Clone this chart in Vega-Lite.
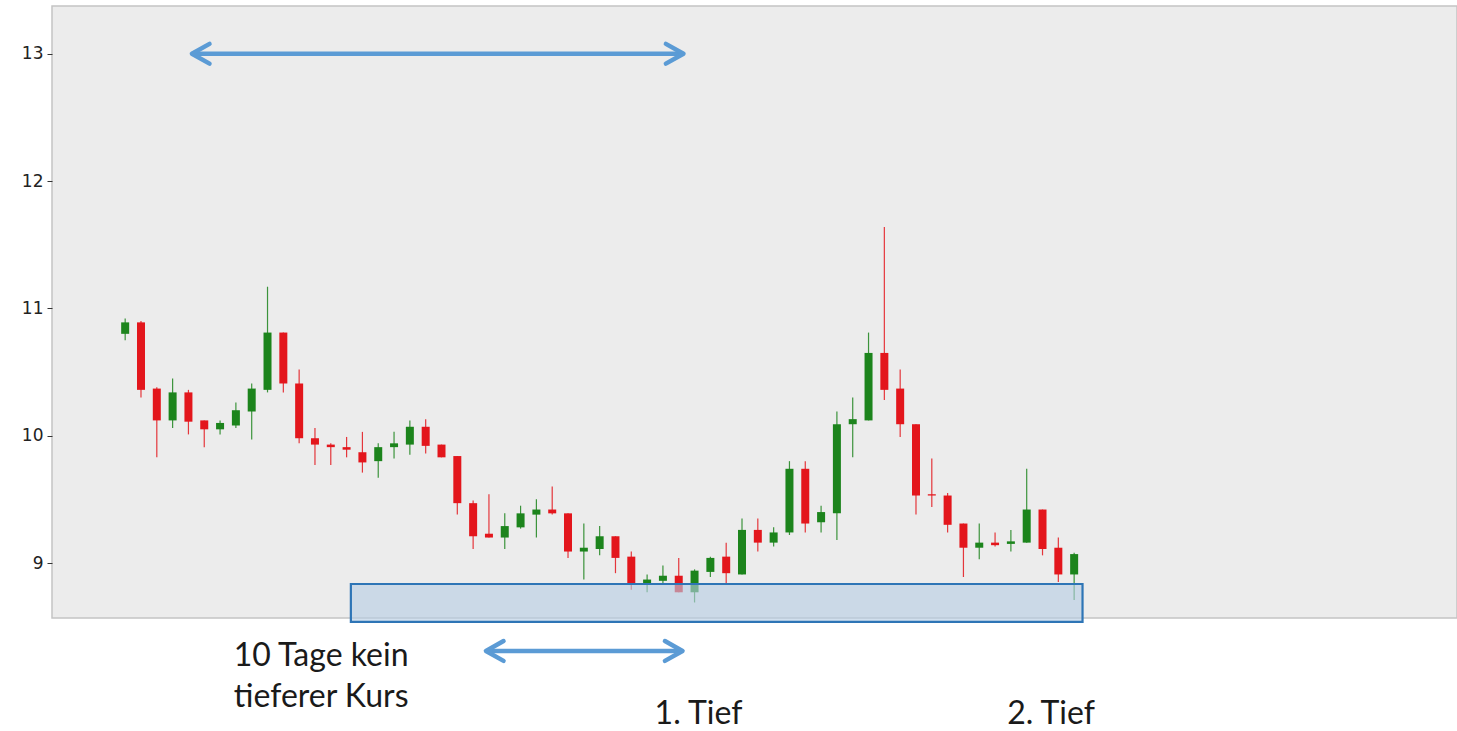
{
  "$schema": "https://vega.github.io/schema/vega-lite/v6.json",
  "autosize": {"type": "none"},
  "width": 1405,
  "height": 612,
  "padding": {"left": 52, "top": 6, "right": 0, "bottom": 113},
  "background": "white",
  "config": {
    "view": {"fill": "#ececec", "stroke": "#c4c4c4", "strokeWidth": 1.5},
    "axis": {"domain": false, "grid": false}
  },
  "datasets": {
    "candles": [
      {"i":1,"o":10.80,"h":10.92,"l":10.75,"c":10.89,"d":"up"},
      {"i":2,"o":10.89,"h":10.90,"l":10.30,"c":10.36,"d":"down"},
      {"i":3,"o":10.37,"h":10.38,"l":9.83,"c":10.12,"d":"down"},
      {"i":4,"o":10.12,"h":10.45,"l":10.06,"c":10.34,"d":"up"},
      {"i":5,"o":10.34,"h":10.36,"l":10.01,"c":10.11,"d":"down"},
      {"i":6,"o":10.12,"h":10.12,"l":9.91,"c":10.05,"d":"down"},
      {"i":7,"o":10.05,"h":10.12,"l":10.01,"c":10.10,"d":"up"},
      {"i":8,"o":10.08,"h":10.26,"l":10.06,"c":10.20,"d":"up"},
      {"i":9,"o":10.19,"h":10.41,"l":9.97,"c":10.37,"d":"up"},
      {"i":10,"o":10.36,"h":11.17,"l":10.34,"c":10.81,"d":"up"},
      {"i":11,"o":10.81,"h":10.81,"l":10.34,"c":10.41,"d":"down"},
      {"i":12,"o":10.41,"h":10.52,"l":9.94,"c":9.98,"d":"down"},
      {"i":13,"o":9.98,"h":10.06,"l":9.77,"c":9.93,"d":"down"},
      {"i":14,"o":9.93,"h":9.94,"l":9.77,"c":9.91,"d":"down"},
      {"i":15,"o":9.91,"h":9.99,"l":9.83,"c":9.89,"d":"down"},
      {"i":16,"o":9.87,"h":10.03,"l":9.71,"c":9.79,"d":"down"},
      {"i":17,"o":9.80,"h":9.94,"l":9.67,"c":9.91,"d":"up"},
      {"i":18,"o":9.91,"h":10.03,"l":9.82,"c":9.94,"d":"up"},
      {"i":19,"o":9.93,"h":10.12,"l":9.85,"c":10.07,"d":"up"},
      {"i":20,"o":10.07,"h":10.13,"l":9.86,"c":9.92,"d":"down"},
      {"i":21,"o":9.93,"h":9.93,"l":9.83,"c":9.83,"d":"down"},
      {"i":22,"o":9.84,"h":9.84,"l":9.38,"c":9.47,"d":"down"},
      {"i":23,"o":9.47,"h":9.49,"l":9.11,"c":9.21,"d":"down"},
      {"i":24,"o":9.23,"h":9.54,"l":9.20,"c":9.20,"d":"down"},
      {"i":25,"o":9.20,"h":9.39,"l":9.11,"c":9.29,"d":"up"},
      {"i":26,"o":9.28,"h":9.45,"l":9.27,"c":9.39,"d":"up"},
      {"i":27,"o":9.38,"h":9.50,"l":9.20,"c":9.42,"d":"up"},
      {"i":28,"o":9.42,"h":9.60,"l":9.38,"c":9.39,"d":"down"},
      {"i":29,"o":9.39,"h":9.39,"l":9.04,"c":9.09,"d":"down"},
      {"i":30,"o":9.09,"h":9.31,"l":8.87,"c":9.12,"d":"up"},
      {"i":31,"o":9.11,"h":9.29,"l":9.06,"c":9.21,"d":"up"},
      {"i":32,"o":9.21,"h":9.21,"l":8.92,"c":9.04,"d":"down"},
      {"i":33,"o":9.05,"h":9.09,"l":8.79,"c":8.83,"d":"down"},
      {"i":34,"o":8.84,"h":8.91,"l":8.77,"c":8.87,"d":"up"},
      {"i":35,"o":8.86,"h":8.98,"l":8.84,"c":8.90,"d":"up"},
      {"i":36,"o":8.90,"h":9.04,"l":8.77,"c":8.77,"d":"down"},
      {"i":37,"o":8.77,"h":8.95,"l":8.69,"c":8.94,"d":"up"},
      {"i":38,"o":8.93,"h":9.05,"l":8.89,"c":9.04,"d":"up"},
      {"i":39,"o":9.05,"h":9.16,"l":8.84,"c":8.92,"d":"down"},
      {"i":40,"o":8.91,"h":9.35,"l":8.91,"c":9.26,"d":"up"},
      {"i":41,"o":9.26,"h":9.35,"l":9.09,"c":9.16,"d":"down"},
      {"i":42,"o":9.16,"h":9.28,"l":9.13,"c":9.24,"d":"up"},
      {"i":43,"o":9.24,"h":9.80,"l":9.22,"c":9.74,"d":"up"},
      {"i":44,"o":9.74,"h":9.80,"l":9.24,"c":9.31,"d":"down"},
      {"i":45,"o":9.32,"h":9.45,"l":9.24,"c":9.40,"d":"up"},
      {"i":46,"o":9.39,"h":10.19,"l":9.18,"c":10.09,"d":"up"},
      {"i":47,"o":10.09,"h":10.30,"l":9.83,"c":10.13,"d":"up"},
      {"i":48,"o":10.12,"h":10.81,"l":10.12,"c":10.65,"d":"up"},
      {"i":49,"o":10.65,"h":11.64,"l":10.28,"c":10.36,"d":"down"},
      {"i":50,"o":10.37,"h":10.52,"l":9.99,"c":10.09,"d":"down"},
      {"i":51,"o":10.09,"h":10.09,"l":9.38,"c":9.53,"d":"down"},
      {"i":52,"o":9.54,"h":9.82,"l":9.44,"c":9.53,"d":"down"},
      {"i":53,"o":9.53,"h":9.55,"l":9.24,"c":9.30,"d":"down"},
      {"i":54,"o":9.31,"h":9.31,"l":8.89,"c":9.12,"d":"down"},
      {"i":55,"o":9.12,"h":9.31,"l":9.03,"c":9.16,"d":"up"},
      {"i":56,"o":9.16,"h":9.24,"l":9.13,"c":9.14,"d":"down"},
      {"i":57,"o":9.15,"h":9.26,"l":9.09,"c":9.17,"d":"up"},
      {"i":58,"o":9.16,"h":9.74,"l":9.16,"c":9.42,"d":"up"},
      {"i":59,"o":9.42,"h":9.42,"l":9.06,"c":9.11,"d":"down"},
      {"i":60,"o":9.12,"h":9.20,"l":8.85,"c":8.91,"d":"down"},
      {"i":61,"o":8.91,"h":9.08,"l":8.71,"c":9.07,"d":"up"}
    ],
    "zone": [{"x1": 15.27, "x2": 61.53, "y1": 8.835, "y2": 8.537}],
    "arrows": [
      {"x1": 5.3, "x2": 36.22, "y": 13.0},
      {"x1": 23.9, "x2": 36.16, "y": 8.309}
    ],
    "heads": [
      {"x": 5.22, "y": 13.0, "side": "L"},
      {"x": 36.30, "y": 13.0, "side": "R"},
      {"x": 23.81, "y": 8.309, "side": "L"},
      {"x": 36.24, "y": 8.309, "side": "R"}
    ],
    "labels": [
      {"t": "10 Tage kein", "x": 13.39, "y": 8.191},
      {"t": "tieferer Kurs", "x": 13.39, "y": 7.869},
      {"t": "1. Tief", "x": 37.25, "y": 7.735},
      {"t": "2. Tief", "x": 59.54, "y": 7.735}
    ]
  },
  "layer": [
    {
      "data": {"name": "candles"},
      "mark": {"type": "rule", "strokeWidth": 1.2, "opacity": 0.85},
      "encoding": {
        "x": {"field": "i", "type": "quantitative", "scale": {"domain": [-3.31, 84.89], "nice": false, "zero": false}, "axis": null},
        "y": {"field": "l", "type": "quantitative", "scale": {"domain": [8.568, 13.375], "nice": false, "zero": false},
              "axis": {"values": [9, 10, 11, 12, 13], "format": "d", "tickSize": 5, "labelPadding": 4, "tickColor": "#333", "labelColor": "#222", "labelFont": "DejaVu Sans", "labelFontSize": 17, "title": null}},
        "y2": {"field": "h"},
        "color": {"field": "d", "type": "nominal", "scale": {"domain": ["up", "down"], "range": ["#1c841c", "#e3161c"]}, "legend": null}
      }
    },
    {
      "data": {"name": "candles"},
      "mark": {"type": "bar", "size": 8},
      "encoding": {
        "x": {"field": "i", "type": "quantitative"},
        "y": {"field": "o", "type": "quantitative"},
        "y2": {"field": "c"},
        "color": {"field": "d", "type": "nominal", "legend": null}
      }
    },
    {
      "data": {"name": "zone"},
      "mark": {"type": "rect", "clip": false, "fill": "#b7cde4", "fillOpacity": 0.62, "stroke": "#2e75b6", "strokeWidth": 2.2},
      "encoding": {
        "x": {"field": "x1", "type": "quantitative"},
        "x2": {"field": "x2"},
        "y": {"field": "y1", "type": "quantitative"},
        "y2": {"field": "y2"}
      }
    },
    {
      "data": {"name": "arrows"},
      "mark": {"type": "rule", "clip": false, "color": "#5b9bd5", "strokeWidth": 4.5, "strokeCap": "round"},
      "encoding": {
        "x": {"field": "x1", "type": "quantitative"},
        "x2": {"field": "x2"},
        "y": {"field": "y", "type": "quantitative"}
      }
    },
    {
      "data": {"name": "heads"},
      "mark": {"type": "point", "clip": false, "filled": false, "stroke": "#5b9bd5", "strokeWidth": 4.5, "strokeCap": "round", "strokeJoin": "round", "size": 484, "opacity": 1},
      "encoding": {
        "x": {"field": "x", "type": "quantitative"},
        "y": {"field": "y", "type": "quantitative"},
        "shape": {"field": "side", "type": "nominal", "scale": {"domain": ["L", "R"], "range": ["M 1.6 -0.9 L 0 0 L 1.6 0.9", "M -1.6 -0.9 L 0 0 L -1.6 0.9"]}, "legend": null}
      }
    },
    {
      "data": {"name": "labels"},
      "mark": {"type": "text", "clip": false, "font": "Lato", "fontSize": 32, "color": "#1a1a1a", "align": "center", "baseline": "alphabetic"},
      "encoding": {
        "x": {"field": "x", "type": "quantitative"},
        "y": {"field": "y", "type": "quantitative"},
        "text": {"field": "t"}
      }
    }
  ]
}
